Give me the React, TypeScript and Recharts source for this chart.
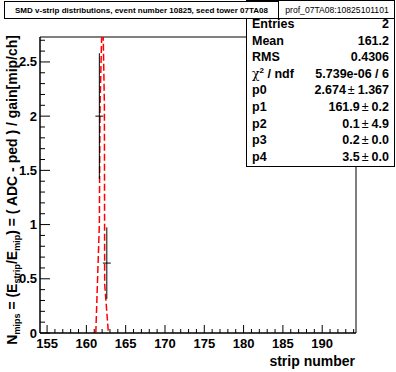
import { ComposedChart, ErrorBar, Line, ReferenceArea, Scatter, XAxis, YAxis } from "recharts";

const xTicks = [155, 156, 157, 158, 159, 160, 161, 162, 163, 164, 165, 166, 167, 168, 169, 170, 171, 172, 173, 174, 175, 176, 177, 178, 179, 180, 181, 182, 183, 184, 185, 186, 187, 188, 189, 190, 191, 192, 193, 194];
const yTicks = [0, 0.1, 0.2, 0.3, 0.4, 0.5, 0.6, 0.7, 0.8, 0.9, 1, 1.1, 1.2, 1.3, 1.4, 1.5, 1.6, 1.7, 1.8, 1.9, 2, 2.1, 2.2, 2.3, 2.4, 2.5, 2.6, 2.7];

const stripNumbers = [161.65, 162.6];
const nMips = [2.0, 0.645];
const nMipsErr = [0.58, 0.33];
const stripHalfWidth = [0.5, 0.5];

const fitX = [161.2, 161.65, 161.74, 161.98, 162.12, 162.29, 162.33, 162.8];
const fitY = [0, 1.0, 2.1, 2.85, 2.85, 2.1, 0.45, 0];

const statLabels = ["Entries", "Mean", "RMS", "chi2", "p0", "p1", "p2", "p3", "p4"];
const statValues = ["2", "161.2", "0.4306", "5.739e-06 / 6", "2.674 ± 1.367", "161.9 ± 0.2", "0.1 ± 4.9", "0.2 ± 0.0", "3.5 ± 0.0"];

const title = "SMD v-strip distributions, event number 10825, seed tower 07TA08";
const histName = "prof_07TA08:10825101101";

const points = stripNumbers.map((x, i) => ({ x, y: nMips[i], ey: nMipsErr[i], ex: stripHalfWidth[i] }));
const fitCurve = fitX.map((x, i) => ({ x, y: fitY[i] }));

const FONT = '"Liberation Sans", Arial, Helvetica, sans-serif';
const X_MIN = 154.1;
const X_MAX = 194.3;
const Y_MAX = 2.73;

const XTick = ({ x, y, payload }: any) => {
  const v = payload.value;
  const major = v % 5 === 0;
  return (
    <g>
      <line x1={x} y1={y} x2={x} y2={y - (major ? 8 : 4)} stroke="#000" />
      {major && (
        <text x={x} y={y + 15} textAnchor="middle" fontFamily={FONT} fontWeight="bold" fontSize={13} fill="#000">
          {v}
        </text>
      )}
    </g>
  );
};

const YTick = ({ x, y, payload }: any) => {
  const v = payload.value;
  const major = Math.abs(v * 2 - Math.round(v * 2)) < 1e-6;
  return (
    <g>
      <line x1={x} y1={y} x2={x + (major ? 10 : 5)} y2={y} stroke="#000" />
      {major && (
        <text x={x - 3} y={y + 4.5} textAnchor="end" fontFamily={FONT} fontWeight="bold" fontSize={13} fill="#000">
          {Number(v.toFixed(1))}
        </text>
      )}
    </g>
  );
};

const StatValue = ({ text, y }: { text: string; y: number }) => {
  const parts = text.split(" ± ");
  return (
    <text x={389} y={y} textAnchor="end" fontFamily={FONT} fontWeight="bold" fontSize={12.5} fill="#000">
      {parts[0]}
      {parts.length > 1 && (
        <>
          <tspan fontWeight="normal" dx={2}>±</tspan>
          <tspan dx={3}>{parts[1]}</tspan>
        </>
      )}
    </text>
  );
};

function Overlay() {
  return (
    <svg width={396} height={372} style={{ position: "absolute", left: 0, top: 0, pointerEvents: "none" }}>
      {/* y axis title */}
      <text transform="translate(17,35) rotate(-90)" textAnchor="end" fontFamily={FONT} fontWeight="bold" fontSize={14} fill="#000">
        N<tspan fontSize={9} dy={3}>mips</tspan>
        <tspan dy={-3}> = (E</tspan>
        <tspan fontSize={9} dy={3}>strip</tspan>
        <tspan dy={-3}>/E</tspan>
        <tspan fontSize={9} dy={3}>mip</tspan>
        <tspan dy={-3}>) = ( ADC - ped ) / gain[mip/ch]</tspan>
      </text>
      {/* x axis title */}
      <text x={355} y={366} textAnchor="end" fontFamily={FONT} fontWeight="bold" fontSize={14} fill="#000">
        strip number
      </text>

      {/* stats box */}
      <rect x={246.5} y={0.5} width={148} height={166} fill="#fff" stroke="#000" />
      <line x1={246} y1={18.5} x2={395} y2={18.5} stroke="#000" />
      <text x={337} y={12.5} textAnchor="middle" fontFamily={FONT} fontSize={8.6} fill="#000">
        {histName}
      </text>
      {statLabels.map((lab, i) => {
        const y = 28 + i * 16.6;
        return (
          <g key={lab}>
            {lab === "chi2" ? (
              <text x={252} y={y} fontFamily={FONT} fontWeight="bold" fontSize={12.5} fill="#000">
                <tspan fontWeight="normal" fontFamily='"DejaVu Serif", serif'>χ</tspan>
                <tspan fontSize={8} dy={-5}>2</tspan>
                <tspan dy={5}> / ndf</tspan>
              </text>
            ) : (
              <text x={252} y={y} fontFamily={FONT} fontWeight="bold" fontSize={12.5} fill="#000">
                {lab}
              </text>
            )}
            <StatValue text={statValues[i]} y={y} />
          </g>
        );
      })}

      {/* title box */}
      <rect x={4.5} y={1.5} width={274} height={17} fill="#fff" stroke="#000" />
      <text x={15} y={13} textLength={253} lengthAdjust="spacingAndGlyphs" fontFamily={FONT} fontWeight="bold" fontSize={7.5} fill="#000">
        {title}
      </text>
    </svg>
  );
}

export default function App() {
  return (
    <div style={{ position: "absolute", left: 0, top: 0, width: 396, height: 372, background: "#fff" }}>
      <ComposedChart width={396} height={372} margin={{ top: 37, right: 40, left: 0, bottom: 0 }}>
        <XAxis
          dataKey="x"
          type="number"
          domain={[X_MIN, X_MAX]}
          ticks={xTicks}
          interval={0}
          allowDataOverflow
          height={39}
          tickSize={0}
          tickMargin={0}
          tickLine={false}
          axisLine={{ stroke: "#000" }}
          tick={<XTick />}
        />
        <YAxis
          dataKey="y"
          type="number"
          domain={[0, Y_MAX]}
          ticks={yTicks}
          interval={0}
          allowDataOverflow
          width={40}
          tickSize={0}
          tickMargin={0}
          tickLine={false}
          axisLine={{ stroke: "#000" }}
          tick={<YTick />}
        />
        <ReferenceArea x1={X_MIN} x2={X_MAX} y1={0} y2={Y_MAX} fill="none" fillOpacity={0} stroke="#000" />
        <Line
          data={fitCurve}
          dataKey="y"
          type="linear"
          stroke="#ff0000"
          strokeWidth={1.5}
          strokeDasharray="7 3"
          dot={false}
          isAnimationActive={false}
        />
        <Scatter data={points} dataKey="y" isAnimationActive={false} shape={() => <g />}>
          <ErrorBar dataKey="ey" direction="y" width={0} stroke="#000" strokeWidth={1} />
          <ErrorBar dataKey="ex" direction="x" width={0} stroke="#000" strokeWidth={1} />
        </Scatter>
      </ComposedChart>
      <Overlay />
    </div>
  );
}
